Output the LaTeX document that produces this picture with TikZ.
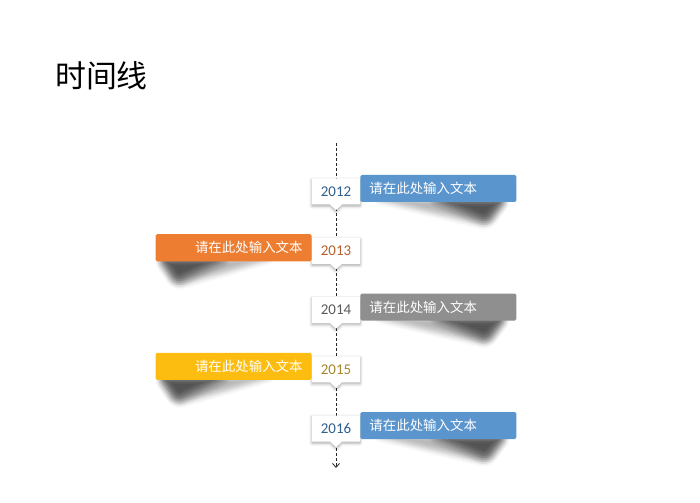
\documentclass[tikz,border=0pt]{standalone}
\usepackage{fontspec}
\setmainfont{Carlito}
\newfontfamily\cjk{Noto Sans CJK SC}
\usetikzlibrary{positioning,shapes.callouts,shadows.blur,backgrounds,arrows.meta}

\definecolor{barblue}{HTML}{5B95CE}
\definecolor{barorange}{HTML}{ED7D31}
\definecolor{bargray}{HTML}{8F8F8F}
\definecolor{baryellow}{HTML}{FDBD10}
\definecolor{yrblue}{HTML}{2F5F8C}
\definecolor{yrorange}{HTML}{B5602C}
\definecolor{yrgray}{HTML}{595959}
\definecolor{yryellow}{HTML}{A5862A}

\def\rowsep{59.25}

\begin{document}
\begin{tikzpicture}[x=1bp,y=-1bp]
\tikzstyle{year}=[rectangle callout, fill=white, minimum width=48bp, minimum height=26bp, inner sep=0pt,
  callout pointer width=12bp, font=\fontsize{15}{15}\selectfont,
  blur shadow={shadow xshift=0bp, shadow yshift=-1.5bp, shadow blur radius=3bp, shadow opacity=35}]
\tikzstyle{bar}=[minimum width=156bp, minimum height=27bp, inner sep=0pt, text width=138bp,
  text=white, font=\cjk\fontsize{13.5}{13.5}\selectfont, rounded corners=1.5bp]
\tikzstyle{right bar}=[bar, align=left]
\tikzstyle{left bar}=[bar, align=right]
\tikzstyle{timeline}=[draw=black!85, line width=0.8bp, dash pattern=on 3bp off 2bp, -{Straight Barb[length=4bp,width=7bp]}]
\tikzstyle{curl}=[rounded corners=7bp, blur shadow={shadow xshift=0bp, shadow yshift=0bp, shadow blur radius=5bp, shadow opacity=28}]
\tikzstyle{curl core}=[rounded corners=7bp, blur shadow={shadow xshift=0bp, shadow yshift=0bp, shadow blur radius=7bp, shadow opacity=55}]

\useasboundingbox (0,0) rectangle (700,503);

% Title
\node[anchor=north west, inner sep=0pt, font=\cjk\fontsize{31}{31}\selectfont] (title) at (55,61) {时间线};

% Draw the time axis
\coordinate (axis-top) at (336,143);
\coordinate (axis-end) at (336,468);
\draw[timeline] (axis-top) -- (axis-end);

% Draw the year labels
\foreach \name/\col/\y in {2012/blue/0,2013/orange/1,2014/gray/2,2015/yellow/3,2016/blue/4}
\node[year, text=yr\col, callout absolute pointer={(336,210+\y*\rowsep)}] (Y-\name) at (336,191.5+\y*\rowsep) {\name};

% Bars on the right side
\foreach \name/\col in {2012/blue,2014/gray,2016/blue}
\node[right bar, fill=bar\col, right=0pt of Y-\name, yshift=3bp] (B-\name) {请在此处输入文本};

% Bars on the left side
\foreach \name/\col in {2013/orange,2015/yellow}
\node[left bar, fill=bar\col, left=0pt of Y-\name, yshift=3bp] (B-\name) {请在此处输入文本};

% Curled shadows under the bars
\begin{pgfonlayer}{background}
\foreach \name in {2012,2014,2016} {
\path[curl] ([xshift=-142bp,yshift=3bp]B-\name.south east) -- ([xshift=-10bp,yshift=3bp]B-\name.south east)
  -- ([xshift=-28bp,yshift=-24bp]B-\name.south east) -- cycle;
\path[curl core] ([xshift=-85bp,yshift=3bp]B-\name.south east) -- ([xshift=-11bp,yshift=3bp]B-\name.south east)
  -- ([xshift=-30bp,yshift=-20bp]B-\name.south east) -- cycle;
}
\foreach \name in {2013,2015} {
\path[curl] ([xshift=118bp,yshift=3bp]B-\name.south west) -- ([xshift=3bp,yshift=3bp]B-\name.south west)
  -- ([xshift=20bp,yshift=-25bp]B-\name.south west) -- cycle;
\path[curl core] ([xshift=72bp,yshift=3bp]B-\name.south west) -- ([xshift=4bp,yshift=3bp]B-\name.south west)
  -- ([xshift=21bp,yshift=-21bp]B-\name.south west) -- cycle;
}
\end{pgfonlayer}

\end{tikzpicture}
\end{document}
